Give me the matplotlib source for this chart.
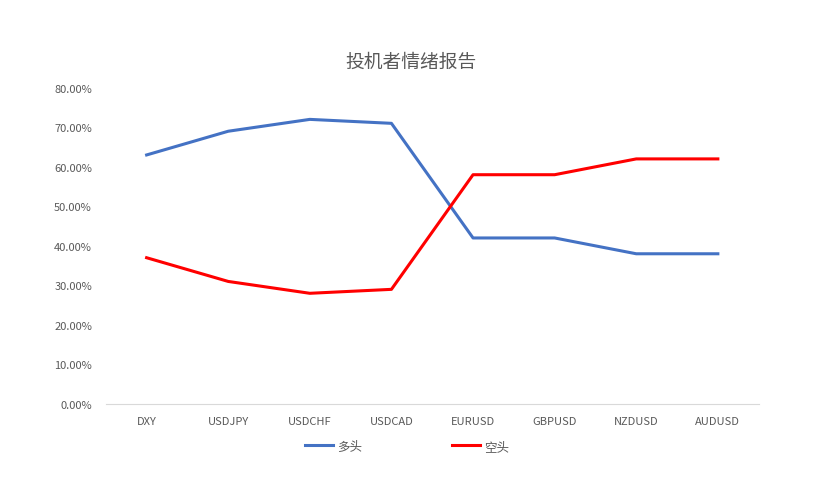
import matplotlib
matplotlib.use("Agg")
import matplotlib.pyplot as plt
from matplotlib.ticker import PercentFormatter

plt.rcParams["font.family"] = ["Noto Sans CJK SC", "DejaVu Sans"]

pairs = ["DXY", "USDJPY", "USDCHF", "USDCAD", "EURUSD", "GBPUSD", "NZDUSD", "AUDUSD"]
long_pct = [63, 69, 72, 71, 42, 42, 38, 38]
short_pct = [37, 31, 28, 29, 58, 58, 62, 62]

fig = plt.figure(figsize=(8.14, 4.85), dpi=100)
ax = fig.add_axes([0.130, 0.165, 0.802, 0.652])

x = range(len(pairs))
ax.plot(x, long_pct, color="#4472C4", lw=2.2, solid_joinstyle="round", label="多头")
ax.plot(x, short_pct, color="#FF0000", lw=2.2, solid_joinstyle="round", label="空头")

ax.set_xlim(-0.5, len(pairs) - 0.5)
ax.set_ylim(0, 80)
ax.set_yticks(range(0, 81, 10))
ax.yaxis.set_major_formatter(PercentFormatter(decimals=2))
ax.set_xticks(list(x))
ax.set_xticklabels(pairs)

for s in ["top", "right", "left"]:
    ax.spines[s].set_visible(False)
ax.spines["bottom"].set_color("#d9d9d9")
ax.tick_params(axis="both", length=0, labelsize=8, colors="#595959")
ax.tick_params(axis="x", pad=9)
ax.tick_params(axis="y", pad=10)

fig.suptitle("投机者情绪报告", x=0.505, y=0.893, fontsize=13.5, color="#595959")

fig.legend(loc="center", bbox_to_anchor=(0.5, 0.078), ncol=2, frameon=False,
           fontsize=9, handlelength=2.2, handletextpad=0.35, columnspacing=7.2,
           labelcolor="#595959")

fig.savefig("out.png", dpi=100, facecolor="white")
